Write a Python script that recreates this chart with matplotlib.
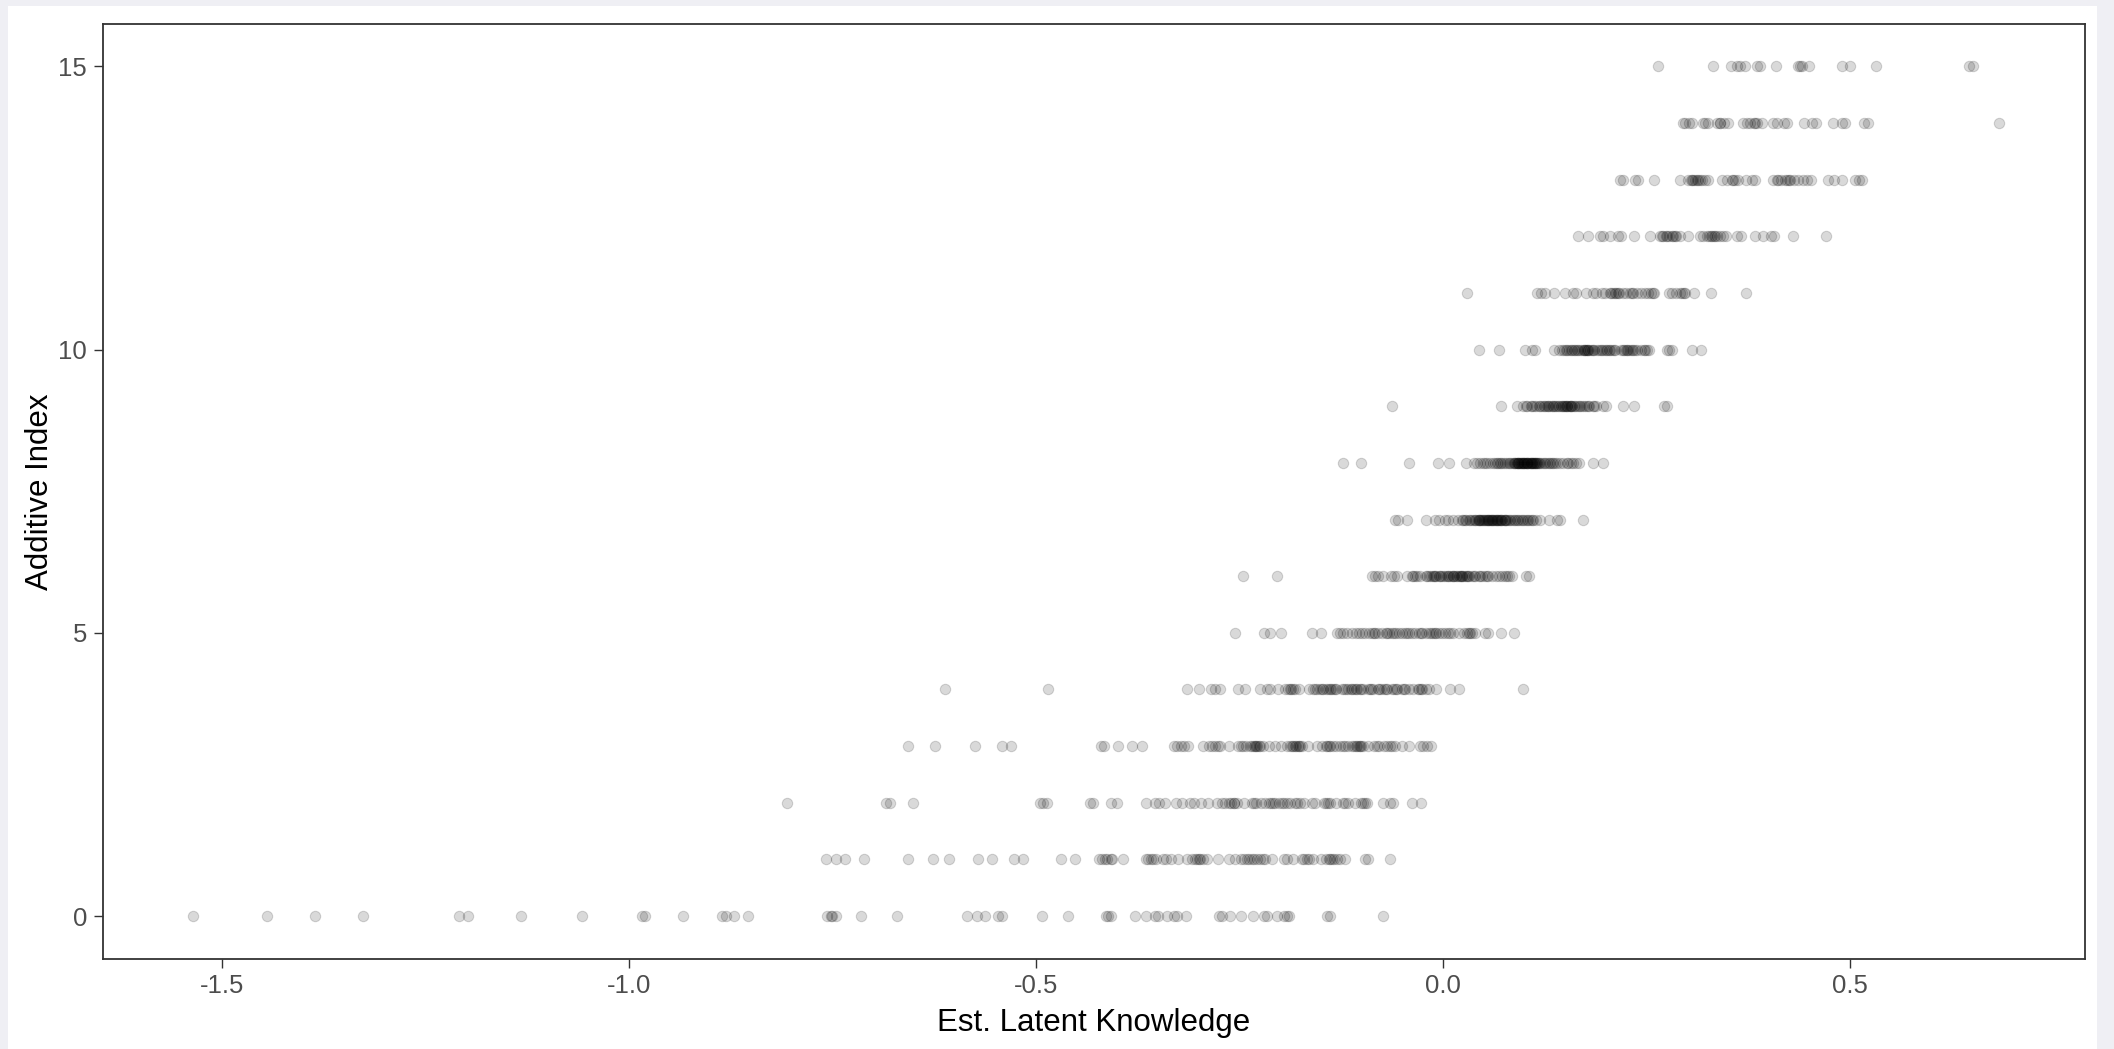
import matplotlib.pyplot as plt
from matplotlib.patches import Rectangle

# estimated latent knowledge for each value of the additive index (0..15)
row_0 = [-1.536, -1.444, -1.385, -1.326, -1.209, -1.198, -1.133, -1.058, -0.984, -0.980,
         -0.933, -0.886, -0.881, -0.871, -0.853, -0.757, -0.752, -0.750, -0.745, -0.715,
         -0.671, -0.584, -0.572, -0.563, -0.546, -0.542, -0.492, -0.461, -0.414, -0.411,
         -0.408, -0.378, -0.365, -0.354, -0.350, -0.339, -0.330, -0.326, -0.316, -0.275,
         -0.271, -0.261, -0.248, -0.233, -0.220, -0.216, -0.204, -0.195, -0.192, -0.189,
         -0.142, -0.138, -0.073]
row_1 = [-0.758, -0.745, -0.735, -0.711, -0.657, -0.626, -0.607, -0.571, -0.554, -0.527,
         -0.516, -0.469, -0.452, -0.422, -0.419, -0.415, -0.412, -0.408, -0.406, -0.393,
         -0.365, -0.362, -0.359, -0.356, -0.352, -0.344, -0.340, -0.334, -0.325, -0.314,
         -0.308, -0.304, -0.302, -0.300, -0.298, -0.294, -0.290, -0.276, -0.263, -0.255,
         -0.248, -0.244, -0.241, -0.238, -0.235, -0.232, -0.228, -0.224, -0.221, -0.218,
         -0.210, -0.195, -0.191, -0.184, -0.173, -0.170, -0.167, -0.164, -0.160, -0.150,
         -0.144, -0.140, -0.138, -0.136, -0.134, -0.130, -0.126, -0.120, -0.096, -0.092,
         -0.065]
row_2 = [-0.806, -0.684, -0.679, -0.651, -0.495, -0.491, -0.486, -0.434, -0.430, -0.408,
         -0.400, -0.365, -0.353, -0.349, -0.341, -0.328, -0.320, -0.310, -0.306, -0.297,
         -0.289, -0.277, -0.271, -0.267, -0.263, -0.260, -0.257, -0.256, -0.253, -0.244,
         -0.235, -0.232, -0.229, -0.223, -0.219, -0.214, -0.211, -0.209, -0.206, -0.201,
         -0.198, -0.195, -0.192, -0.188, -0.182, -0.179, -0.176, -0.170, -0.161, -0.157,
         -0.146, -0.143, -0.141, -0.138, -0.131, -0.123, -0.120, -0.117, -0.108, -0.101,
         -0.098, -0.096, -0.093, -0.074, -0.065, -0.061, -0.038, -0.027]
row_3 = [-0.657, -0.624, -0.575, -0.541, -0.531, -0.420, -0.416, -0.399, -0.382, -0.370,
         -0.330, -0.326, -0.322, -0.318, -0.313, -0.294, -0.287, -0.283, -0.280, -0.276,
         -0.274, -0.263, -0.252, -0.248, -0.245, -0.242, -0.237, -0.234, -0.232, -0.231,
         -0.229, -0.228, -0.226, -0.224, -0.221, -0.214, -0.206, -0.199, -0.191, -0.188,
         -0.185, -0.184, -0.182, -0.180, -0.178, -0.177, -0.175, -0.173, -0.166, -0.155,
         -0.148, -0.144, -0.142, -0.140, -0.138, -0.135, -0.131, -0.126, -0.122, -0.120,
         -0.116, -0.111, -0.109, -0.107, -0.105, -0.103, -0.102, -0.100, -0.098, -0.092,
         -0.084, -0.081, -0.078, -0.072, -0.068, -0.065, -0.062, -0.059, -0.050, -0.041,
         -0.028, -0.024, -0.019, -0.015]
row_4 = [-0.612, -0.485, -0.314, -0.300, -0.285, -0.280, -0.274, -0.252, -0.243, -0.225,
         -0.216, -0.212, -0.203, -0.194, -0.190, -0.188, -0.186, -0.184, -0.181, -0.177,
         -0.164, -0.160, -0.157, -0.154, -0.151, -0.149, -0.147, -0.143, -0.141, -0.139,
         -0.137, -0.135, -0.133, -0.131, -0.124, -0.121, -0.119, -0.116, -0.113, -0.111,
         -0.109, -0.107, -0.105, -0.102, -0.100, -0.098, -0.092, -0.090, -0.088, -0.086,
         -0.080, -0.078, -0.076, -0.072, -0.070, -0.068, -0.062, -0.060, -0.058, -0.056,
         -0.050, -0.048, -0.046, -0.041, -0.037, -0.031, -0.029, -0.027, -0.025, -0.021,
         -0.017, -0.008, 0.009, 0.020, 0.099]
row_5 = [-0.255, -0.220, -0.212, -0.199, -0.161, -0.150, -0.130, -0.126, -0.122, -0.118,
         -0.111, -0.107, -0.103, -0.099, -0.095, -0.091, -0.087, -0.085, -0.083, -0.079,
         -0.075, -0.070, -0.068, -0.066, -0.062, -0.060, -0.058, -0.054, -0.050, -0.046,
         -0.044, -0.042, -0.038, -0.034, -0.029, -0.027, -0.025, -0.021, -0.017, -0.014,
         -0.012, -0.010, -0.008, -0.005, -0.001, 0.003, 0.007, 0.009, 0.013, 0.020,
         0.026, 0.030, 0.032, 0.034, 0.036, 0.040, 0.052, 0.056, 0.071, 0.087]
row_6 = [-0.246, -0.204, -0.087, -0.083, -0.079, -0.073, -0.064, -0.060, -0.056, -0.044,
         -0.038, -0.036, -0.034, -0.032, -0.028, -0.021, -0.019, -0.017, -0.014, -0.012,
         -0.011, -0.009, -0.008, -0.005, -0.003, -0.002, 0.000, 0.003, 0.005, 0.006,
         0.008, 0.010, 0.012, 0.013, 0.014, 0.016, 0.018, 0.020, 0.021, 0.022,
         0.023, 0.024, 0.026, 0.028, 0.030, 0.031, 0.032, 0.036, 0.038, 0.040,
         0.044, 0.046, 0.048, 0.052, 0.054, 0.056, 0.061, 0.065, 0.069, 0.073,
         0.077, 0.079, 0.081, 0.085, 0.102, 0.106]
row_7 = [-0.059, -0.055, -0.044, -0.021, -0.009, -0.005, 0.003, 0.007, 0.013, 0.019,
         0.023, 0.025, 0.027, 0.029, 0.032, 0.034, 0.036, 0.038, 0.040, 0.041,
         0.043, 0.044, 0.045, 0.046, 0.047, 0.048, 0.050, 0.051, 0.052, 0.053,
         0.054, 0.055, 0.056, 0.057, 0.058, 0.059, 0.060, 0.061, 0.062, 0.063,
         0.064, 0.065, 0.066, 0.067, 0.068, 0.069, 0.070, 0.071, 0.072, 0.073,
         0.075, 0.076, 0.077, 0.078, 0.079, 0.081, 0.083, 0.085, 0.087, 0.089,
         0.091, 0.093, 0.095, 0.097, 0.099, 0.101, 0.103, 0.105, 0.107, 0.109,
         0.111, 0.115, 0.119, 0.130, 0.140, 0.144, 0.172]
row_8 = [-0.122, -0.100, -0.041, -0.006, 0.008, 0.029, 0.038, 0.042, 0.046, 0.050,
         0.052, 0.054, 0.058, 0.062, 0.064, 0.066, 0.068, 0.070, 0.072, 0.074,
         0.077, 0.079, 0.081, 0.083, 0.085, 0.087, 0.088, 0.089, 0.090, 0.091,
         0.092, 0.093, 0.093, 0.094, 0.095, 0.096, 0.096, 0.097, 0.098, 0.099,
         0.100, 0.100, 0.101, 0.102, 0.103, 0.104, 0.104, 0.105, 0.106, 0.107,
         0.108, 0.108, 0.109, 0.110, 0.111, 0.112, 0.112, 0.113, 0.114, 0.115,
         0.116, 0.117, 0.118, 0.119, 0.122, 0.124, 0.126, 0.128, 0.130, 0.132,
         0.134, 0.136, 0.138, 0.140, 0.144, 0.148, 0.152, 0.154, 0.158, 0.160,
         0.164, 0.167, 0.185, 0.197]
row_9 = [-0.063, 0.072, 0.091, 0.098, 0.102, 0.104, 0.108, 0.110, 0.112, 0.114,
         0.118, 0.120, 0.122, 0.124, 0.126, 0.128, 0.129, 0.131, 0.133, 0.135,
         0.136, 0.138, 0.139, 0.141, 0.143, 0.145, 0.147, 0.148, 0.149, 0.150,
         0.151, 0.152, 0.153, 0.155, 0.156, 0.157, 0.158, 0.159, 0.161, 0.163,
         0.165, 0.167, 0.169, 0.171, 0.174, 0.176, 0.178, 0.180, 0.184, 0.186,
         0.188, 0.197, 0.201, 0.221, 0.235, 0.272, 0.276]
row_10 = [0.045, 0.069, 0.101, 0.109, 0.113, 0.137, 0.143, 0.147, 0.149, 0.151,
          0.153, 0.155, 0.157, 0.159, 0.161, 0.163, 0.165, 0.166, 0.169, 0.171,
          0.173, 0.174, 0.175, 0.176, 0.177, 0.178, 0.179, 0.181, 0.183, 0.185,
          0.186, 0.190, 0.192, 0.194, 0.196, 0.198, 0.200, 0.202, 0.204, 0.206,
          0.208, 0.210, 0.212, 0.219, 0.221, 0.223, 0.225, 0.226, 0.228, 0.230,
          0.232, 0.234, 0.236, 0.238, 0.243, 0.247, 0.249, 0.251, 0.253, 0.275,
          0.278, 0.282, 0.306, 0.317]
row_11 = [0.030, 0.116, 0.121, 0.125, 0.137, 0.150, 0.160, 0.164, 0.176, 0.184,
          0.188, 0.195, 0.199, 0.205, 0.207, 0.209, 0.211, 0.213, 0.215, 0.217,
          0.221, 0.225, 0.230, 0.232, 0.234, 0.239, 0.243, 0.248, 0.252, 0.256,
          0.258, 0.260, 0.278, 0.282, 0.287, 0.291, 0.294, 0.296, 0.298, 0.309,
          0.329, 0.372]
row_12 = [0.166, 0.178, 0.193, 0.197, 0.205, 0.215, 0.219, 0.235, 0.254, 0.267,
          0.269, 0.271, 0.274, 0.276, 0.278, 0.281, 0.283, 0.285, 0.287, 0.291,
          0.301, 0.316, 0.320, 0.324, 0.327, 0.329, 0.331, 0.333, 0.335, 0.337,
          0.340, 0.344, 0.348, 0.362, 0.366, 0.384, 0.394, 0.403, 0.407, 0.430,
          0.471]
row_13 = [0.218, 0.222, 0.236, 0.240, 0.260, 0.292, 0.301, 0.305, 0.306, 0.308,
          0.310, 0.312, 0.314, 0.316, 0.318, 0.322, 0.326, 0.343, 0.349, 0.355,
          0.357, 0.359, 0.363, 0.373, 0.380, 0.384, 0.406, 0.410, 0.412, 0.416,
          0.421, 0.423, 0.425, 0.427, 0.431, 0.437, 0.443, 0.448, 0.452, 0.473,
          0.481, 0.490, 0.506, 0.511, 0.515]
row_14 = [0.295, 0.298, 0.302, 0.306, 0.320, 0.322, 0.326, 0.337, 0.341, 0.341,
          0.345, 0.351, 0.369, 0.374, 0.378, 0.382, 0.384, 0.386, 0.392, 0.406,
          0.410, 0.419, 0.423, 0.444, 0.454, 0.458, 0.480, 0.490, 0.494, 0.518,
          0.522, 0.683]
row_15 = [0.264, 0.332, 0.354, 0.361, 0.365, 0.371, 0.386, 0.390, 0.409, 0.437,
          0.439, 0.441, 0.450, 0.491, 0.500, 0.532, 0.647, 0.651]

rows = [row_0, row_1, row_2, row_3, row_4, row_5, row_6, row_7,
        row_8, row_9, row_10, row_11, row_12, row_13, row_14, row_15]

x_ticks = [-1.5, -1.0, -0.5, 0.0, 0.5]
x_ticklabels = ["-1.5", "-1.0", "-0.5", "0.0", "0.5"]
y_ticks = [0, 5, 10, 15]

xs, ys = [], []
for index, vals in enumerate(rows):
    xs.extend(vals)
    ys.extend([index] * len(vals))

plt.rcParams['font.family'] = ['Liberation Sans', 'DejaVu Sans']

fig = plt.figure(figsize=(21.14, 10.49), dpi=100, facecolor="#efeff4")
# white page inside the light border of the screenshot
fig.patches.append(Rectangle((8 / 2114, 0), (2097 - 8) / 2114, (1049 - 6) / 1049,
                             transform=fig.transFigure, facecolor="white",
                             edgecolor="none", zorder=-10))

ax = fig.add_axes([103 / 2114, (1049 - 958.5) / 1049, (2085 - 103) / 2114, (958.5 - 24) / 1049])
ax.set_facecolor("white")

ax.scatter(xs, ys, s=56, color="black", alpha=0.15, linewidths=0.8, edgecolors="black")

ax.set_xlim(-1.646, 0.789)
ax.set_ylim(-0.75, 15.75)
ax.set_xticks(x_ticks)
ax.set_xticklabels(x_ticklabels)
ax.set_yticks(y_ticks)

for side in ax.spines.values():
    side.set_color("#333333")
    side.set_linewidth(1.3)

ax.tick_params(axis="both", length=6.5, width=1.0, color="#333333",
               labelsize=18.5, labelcolor="#4d4d4d", pad=5)

ax.set_xlabel("Est. Latent Knowledge", fontsize=22.5, color="black", labelpad=7)
ax.set_ylabel("Additive Index", fontsize=22.5, color="black", labelpad=2)

fig.savefig("out.png", dpi=100, facecolor=fig.get_facecolor())
